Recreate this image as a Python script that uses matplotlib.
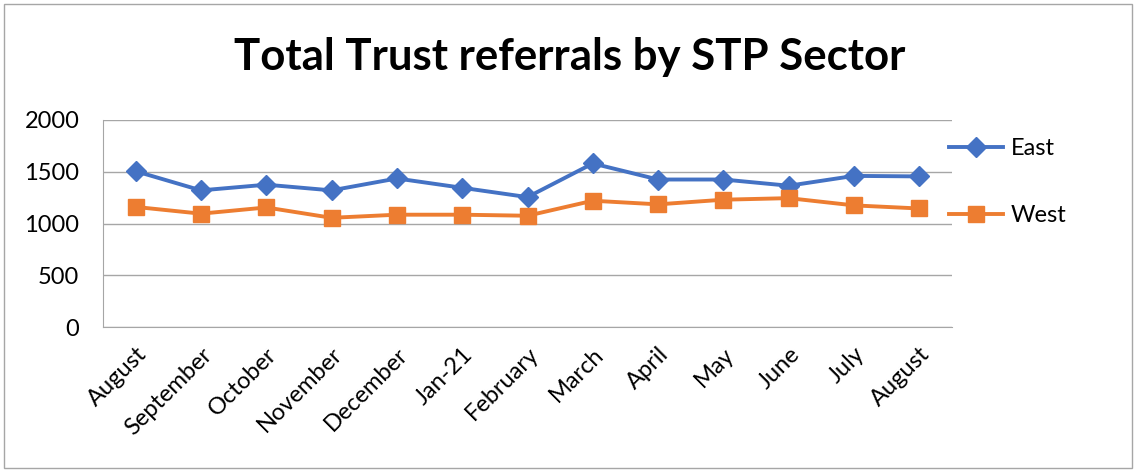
import matplotlib
matplotlib.use("Agg")
import matplotlib.pyplot as plt
from matplotlib.patches import Rectangle

months = ["August", "September", "October", "November", "December", "Jan-21",
          "February", "March", "April", "May", "June", "July", "August"]
east = [1505, 1320, 1375, 1320, 1435, 1345, 1255, 1580, 1425, 1425, 1365, 1460, 1455]
west = [1160, 1095, 1155, 1055, 1085, 1085, 1075, 1220, 1185, 1230, 1245, 1175, 1145]
yticks = [0, 500, 1000, 1500, 2000]

plt.rcParams['font.family'] = ['Lato', 'DejaVu Sans']

fig = plt.figure(figsize=(11.36, 4.72), dpi=100)
fig.patches.append(Rectangle((4/1136, 4/472), 1128/1136, 464/472, transform=fig.transFigure,
                             fill=False, edgecolor='#a6a6a6', linewidth=1.0))
ax = fig.add_axes([103/1136, 145/472, 849/1136, 207/472])

x = list(range(len(months)))
ax.plot(x, east, color='#4472C4', lw=2.8, marker='D', markersize=10, label='East')
ax.plot(x, west, color='#ED7D31', lw=2.8, marker='s', markersize=12, label='West')

ax.set_xlim(-0.5, len(months) - 0.5)
ax.set_ylim(0, 2000)
ax.set_yticks(yticks)
ax.set_yticklabels([str(v) for v in yticks], fontsize=17)
ax.set_xticks(x)
ax.set_xticklabels(months, rotation=45, ha='right', rotation_mode='anchor', fontsize=17)
ax.tick_params(axis='y', length=0, pad=17)
ax.tick_params(axis='x', length=0, pad=12)
ax.grid(axis='y', color='#a6a6a6', lw=1.0)
ax.set_axisbelow(True)
for s in ['top', 'right']:
    ax.spines[s].set_visible(False)
ax.spines['left'].set_color('#a6a6a6')
ax.spines['bottom'].set_color('#a6a6a6')

fig.text(570/1136, 1 - 57/472, "Total Trust referrals by STP Sector", ha='center', va='center',
         fontsize=31.5, fontweight='bold')

ax.legend(loc='upper left', bbox_to_anchor=(949/1136, 1 - 138/472), bbox_transform=fig.transFigure,
          frameon=False, fontsize=17, labelspacing=1.95, handlelength=2.3, handletextpad=0.3,
          borderaxespad=0, borderpad=0)

fig.savefig("out.png", dpi=100)
